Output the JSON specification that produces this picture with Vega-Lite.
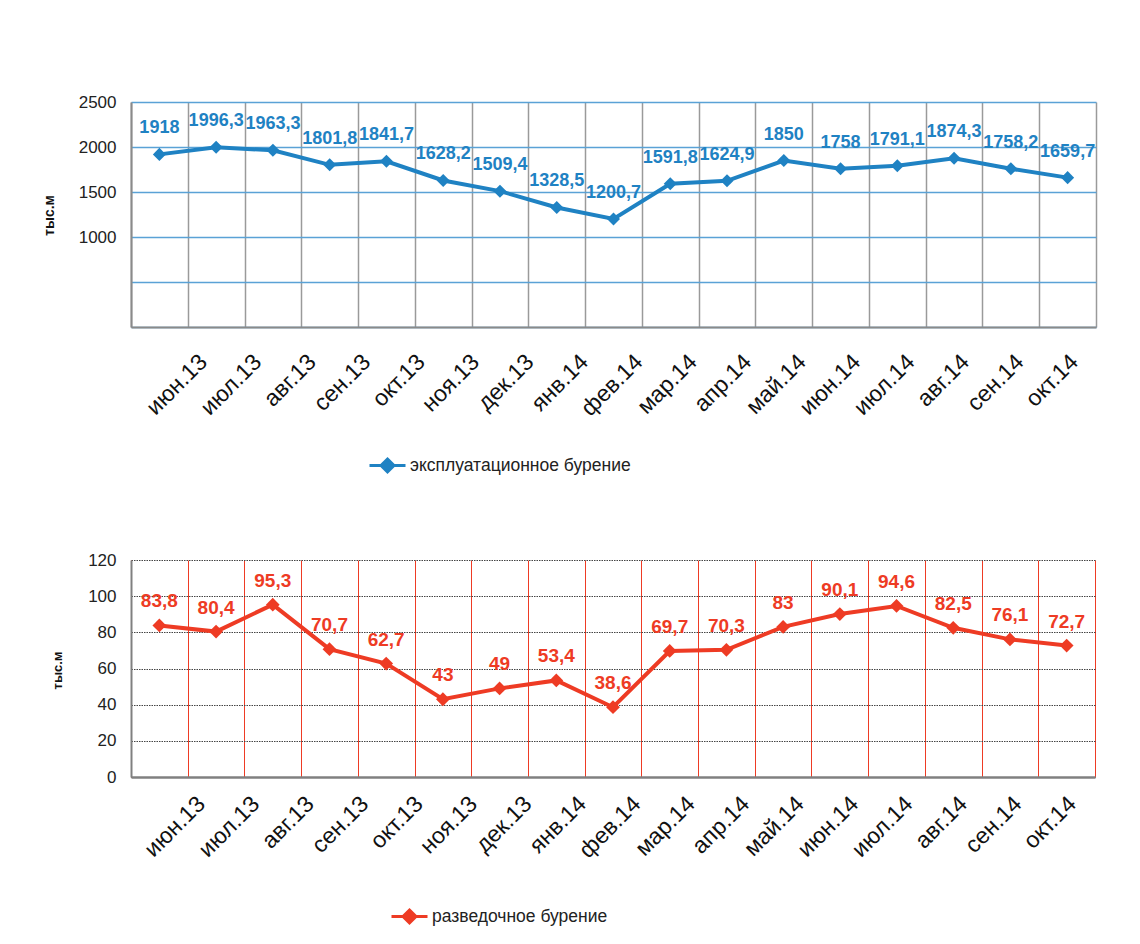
{
  "$schema": "https://vega.github.io/schema/vega-lite/v6.json",
  "autosize": {"type": "pad"},
  "padding": {"left": 42, "top": 93, "right": 5, "bottom": 5},
  "background": "#ffffff",
  "spacing": 233,
  "bounds": "flush",
  "config": {
    "locale": {"number": {"decimal": ",", "thousands": " ", "grouping": [3], "currency": ["", ""]}},
    "view": {"stroke": null},
    "font": "Liberation Sans"
  },
  "resolve": {"scale": {"color": "independent"}, "legend": {"color": "independent"}},
  "vconcat": [
    {
      "width": 965,
      "height": 225,
      "data": {"values": [
        {"month": "июн.13", "value": 1918},
        {"month": "июл.13", "value": 1996.3},
        {"month": "авг.13", "value": 1963.3},
        {"month": "сен.13", "value": 1801.8},
        {"month": "окт.13", "value": 1841.7},
        {"month": "ноя.13", "value": 1628.2},
        {"month": "дек.13", "value": 1509.4},
        {"month": "янв.14", "value": 1328.5},
        {"month": "фев.14", "value": 1200.7},
        {"month": "мар.14", "value": 1591.8},
        {"month": "апр.14", "value": 1624.9},
        {"month": "май.14", "value": 1850},
        {"month": "июн.14", "value": 1758},
        {"month": "июл.14", "value": 1791.1},
        {"month": "авг.14", "value": 1874.3},
        {"month": "сен.14", "value": 1758.2},
        {"month": "окт.14", "value": 1659.7}
      ]},
      "layer": [
        {
          "encoding": {
            "x": {"field": "month", "type": "ordinal", "sort": null, "bandPosition": 0.5,
              "scale": {"type": "band", "paddingInner": 0, "paddingOuter": 0},
              "axis": {"title": null, "labels": false, "ticks": false, "tickSize": 0, "tickBand": "extent",
                "grid": true, "gridColor": "#9a9a9a", "gridWidth": 1.5, "domain": true, "domainColor": "#8a8a8a", "domainWidth": 2}},
            "y": {"field": "value", "type": "quantitative",
              "scale": {"domain": [0, 2500], "nice": false},
              "axis": {"title": "тыс.м", "titleFont": "Liberation Sans Narrow, Liberation Sans", "titleFontSize": 14, "titleFontWeight": "bold", "titleColor": "#111",
                "titleX": -82, "titleY": 113, "titleBaseline": "middle", "titleAngle": -90,
                "values": [0, 500, 1000, 1500, 2000, 2500], "format": "d",
                "labelExpr": "datum.value >= 1000 ? datum.label : ''",
                "labelFont": "Liberation Sans Narrow, Liberation Sans", "labelFontSize": 17, "labelColor": "#222", "labelPadding": 15,
                "ticks": false, "tickSize": 0,
                "grid": true, "gridColor": "#5aa2d6", "gridWidth": 1.5,
                "domain": true, "domainColor": "#8a8a8a", "domainWidth": 2}}
          },
          "layer": [
            {
              "mark": {"type": "line", "strokeWidth": 4},
              "encoding": {
                "color": {"datum": "эксплуатационное бурение", "type": "nominal",
                  "scale": {"range": ["#1f82c3"]},
                  "legend": {"orient": "none", "legendX": 237, "legendY": 344, "title": null, "padding": 0,
                    "symbolType": "M-1,0L1,0M0,-0.36L0.36,0L0,0.36L-0.36,0Z", "symbolSize": 1296,
                    "symbolStrokeWidth": 3, "symbolFillColor": "#1f82c3", "symbolStrokeColor": "#1f82c3",
                    "labelFontSize": 17.5, "labelColor": "#222", "labelOffset": 3, "labelLimit": 0}}
              }
            },
            {
              "mark": {"type": "point", "shape": "diamond", "filled": true, "size": 170, "opacity": 1, "color": "#1f82c3"}
            },
            {
              "mark": {"type": "text", "dy": -26, "fontWeight": "bold", "fontSize": 18, "font": "Liberation Sans Narrow, Liberation Sans", "color": "#1f82c3", "baseline": "middle"},
              "encoding": {"text": {"field": "value", "type": "quantitative", "format": ".1~f"}}
            }
          ]
        },
        {
          "mark": {"type": "point", "opacity": 0},
          "encoding": {
            "x": {"field": "month", "type": "ordinal", "sort": null,
              "scale": {"type": "point", "range": [72, 943], "padding": 0},
              "axis": {"title": null, "orient": "bottom", "domain": false, "grid": false, "ticks": false, "tickSize": 0,
                "labelAngle": -45, "labelAlign": "right", "labelBaseline": "middle", "labelPadding": 31,
                "labelFontSize": 23, "labelColor": "#111", "labelOverlap": false, "labelBound": false}}
          }
        }
      ],
      "resolve": {"scale": {"x": "independent"}, "axis": {"x": "independent"}}
    },
    {
      "width": 964,
      "height": 217,
      "data": {"values": [
        {"month": "июн.13", "value": 83.8},
        {"month": "июл.13", "value": 80.4},
        {"month": "авг.13", "value": 95.3},
        {"month": "сен.13", "value": 70.7},
        {"month": "окт.13", "value": 62.7},
        {"month": "ноя.13", "value": 43},
        {"month": "дек.13", "value": 49},
        {"month": "янв.14", "value": 53.4},
        {"month": "фев.14", "value": 38.6},
        {"month": "мар.14", "value": 69.7},
        {"month": "апр.14", "value": 70.3},
        {"month": "май.14", "value": 83},
        {"month": "июн.14", "value": 90.1},
        {"month": "июл.14", "value": 94.6},
        {"month": "авг.14", "value": 82.5},
        {"month": "сен.14", "value": 76.1},
        {"month": "окт.14", "value": 72.7}
      ]},
      "layer": [
        {
          "encoding": {
            "x": {"field": "month", "type": "ordinal", "sort": null, "bandPosition": 0.5,
              "scale": {"type": "band", "paddingInner": 0, "paddingOuter": 0},
              "axis": {"title": null, "labels": false, "ticks": false, "tickSize": 0, "tickBand": "extent",
                "grid": true, "gridColor": "#ee3b24", "gridWidth": 1, "domain": true, "domainColor": "#808080", "domainWidth": 2.5}},
            "y": {"field": "value", "type": "quantitative",
              "scale": {"domain": [0, 120], "nice": false},
              "axis": {"title": "тыс.м", "titleFontSize": 13, "titleFontWeight": "bold", "titleColor": "#111",
                "titleX": -74, "titleY": 110, "titleBaseline": "middle", "titleAngle": -90,
                "values": [0, 20, 40, 60, 80, 100, 120], "format": "d",
                "labelFontSize": 17, "labelColor": "#222", "labelPadding": 15,
                "ticks": false, "tickSize": 0,
                "grid": true, "gridColor": "#444444", "gridWidth": 1, "gridDash": [1.5, 1],
                "domain": true, "domainColor": "#808080", "domainWidth": 2}}
          },
          "layer": [
            {
              "mark": {"type": "line", "strokeWidth": 4},
              "encoding": {
                "color": {"datum": "разведочное бурение", "type": "nominal",
                  "scale": {"range": ["#ee3b24"]},
                  "legend": {"orient": "none", "legendX": 259, "legendY": 337, "title": null, "padding": 0,
                    "symbolType": "M-1,0L1,0M0,-0.36L0.36,0L0,0.36L-0.36,0Z", "symbolSize": 1296,
                    "symbolStrokeWidth": 3, "symbolFillColor": "#ee3b24", "symbolStrokeColor": "#ee3b24",
                    "labelFontSize": 17.5, "labelColor": "#222", "labelOffset": 3, "labelLimit": 0}}
              }
            },
            {
              "mark": {"type": "point", "shape": "diamond", "filled": true, "size": 190, "opacity": 1, "color": "#ee3b24"}
            },
            {
              "mark": {"type": "text", "dy": -24, "fontWeight": "bold", "fontSize": 19, "color": "#ee3b24", "baseline": "middle"},
              "encoding": {"text": {"field": "value", "type": "quantitative", "format": ".1~f"}}
            }
          ]
        },
        {
          "mark": {"type": "point", "opacity": 0},
          "encoding": {
            "x": {"field": "month", "type": "ordinal", "sort": null,
              "scale": {"type": "point", "range": [70, 941], "padding": 0},
              "axis": {"title": null, "orient": "bottom", "domain": false, "grid": false, "ticks": false, "tickSize": 0,
                "labelAngle": -45, "labelAlign": "right", "labelBaseline": "middle", "labelPadding": 23,
                "labelFontSize": 23, "labelColor": "#111", "labelOverlap": false, "labelBound": false}}
          }
        }
      ],
      "resolve": {"scale": {"x": "independent"}, "axis": {"x": "independent"}}
    }
  ]
}
